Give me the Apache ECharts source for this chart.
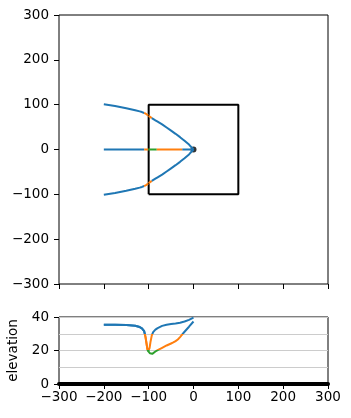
<!DOCTYPE html>
<html>
<head>
<meta charset="utf-8">
<script src="https://cdn.jsdelivr.net/npm/echarts@6/dist/echarts.min.js"></script>
<style>
  html, body { margin: 0; padding: 0; background: #fff; }
  #chart { width: 351px; height: 418px; }
</style>
</head>
<body>
<div id="chart"></div>
<script>
// straight middle path along y = 0, with its elevation
const midX = [-200, -175, -150, -130, -120, -115, -110, -107, -105, -103, -101, -100, -97, -95, -92, -88, -85, -82, -80, -70, -60, -50, -45, -40, -35, -30, -25, -20, -10, 0];
const midY = [0, 0, 0, 0, 0, 0, 0, 0, 0, 0, 0, 0, 0, 0, 0, 0, 0, 0, 0, 0, 0, 0, 0, 0, 0, 0, 0, 0, 0, 0];
const midElev = [35.3, 35.3, 35.2, 34.8, 34, 33.2, 31.5, 28, 24.5, 21, 19.6, 19.2, 18.3, 17.8, 18, 18.8, 19.4, 19.8, 20.2, 21.6, 23, 24.2, 24.8, 25.6, 26.6, 28, 29.6, 31.2, 34.2, 37.3];

// upper curved path (the lower one is the same path mirrored)
const curveX = [-200, -175, -150, -130, -120, -115, -110, -107, -105, -103, -101, -100, -98, -96, -93, -90, -85, -80, -70, -60, -50, -40, -30, -20, -10, 0];
const curveY = [101, 97, 92, 87.5, 85, 83.5, 81.5, 80, 79, 77.5, 76, 75, 73.5, 72, 70, 68, 65, 62, 56, 49, 42, 35, 27.5, 19.5, 11, 0];
const curveElev = [35.3, 35.3, 35.2, 34.8, 34, 33.2, 31.5, 28, 24.5, 21, 19.6, 19.5, 21.5, 25, 29, 31, 32.5, 33.4, 34.7, 35.4, 35.8, 36.1, 36.6, 37.3, 38.3, 39.6];

const boxX = [-100, 100, 100, -100, -100];
const boxY = [-100, -100, 100, 100, -100];

const endPoint = [[0, 0]];

const BLUE = '#1f77b4', ORANGE = '#ff7f0e', GREEN = '#2ca02c';
const FONT = 'DejaVu Sans';

function bandColor(e) {
  if (e < 20) return GREEN;
  if (e < 30) return ORANGE;
  return BLUE;
}

// cut a path into runs of the same colour
function pieces(xs, ys, es) {
  const out = [];
  let cur = null;
  for (let i = 0; i < xs.length - 1; i++) {
    const c = bandColor((es[i] + es[i + 1]) / 2);
    if (!cur || cur.color !== c) {
      cur = {color: c, data: [[xs[i], ys[i]]]};
      out.push(cur);
    }
    cur.data.push([xs[i + 1], ys[i + 1]]);
  }
  return out;
}

const fmt = v => v < 0 ? '\u2212' + Math.abs(v) : String(v);
const zip = (a, b) => a.map((v, i) => [v, b[i]]);

const chart = echarts.init(document.getElementById('chart'));

const series = [];
// elevation profiles (bottom)
series.push({type: 'line', xAxisIndex: 1, yAxisIndex: 1, data: zip(curveX, curveElev),
  showSymbol: false, silent: true, lineStyle: {width: 2}});
series.push({type: 'line', xAxisIndex: 1, yAxisIndex: 1, data: zip(midX, midElev),
  showSymbol: false, silent: true, lineStyle: {width: 2}});

// square
series.push({type: 'line', xAxisIndex: 0, yAxisIndex: 0, data: zip(boxX, boxY),
  showSymbol: false, silent: true, lineStyle: {color: '#000', width: 2}});

const lowerY = curveY.map(v => -v);
[pieces(curveX, curveY, curveElev), pieces(curveX, lowerY, curveElev), pieces(midX, midY, midElev)]
  .forEach(list => list.forEach(p => {
    series.push({type: 'line', xAxisIndex: 0, yAxisIndex: 0, data: p.data,
      showSymbol: false, silent: true, lineStyle: {color: p.color, width: 2}});
  }));

series.push({type: 'scatter', xAxisIndex: 0, yAxisIndex: 0, data: endPoint,
  symbolSize: 6, itemStyle: {color: '#000'}, silent: true});

const tick = {show: true, inside: false, length: 5, lineStyle: {color: '#000', width: 1}};
const label = {fontFamily: FONT, fontSize: 13.5, color: '#000', formatter: fmt};
const noLine = {show: false, onZero: false};

chart.setOption({
  animation: false,
  grid: [
    {left: 59, top: 15, width: 269, height: 269, show: true, borderColor: '#000', borderWidth: 1,
      outerBoundsMode: 'none'},
    {left: 59, top: 317, width: 269, height: 67, show: true, borderColor: '#000', borderWidth: 1,
      outerBoundsMode: 'none'}
  ],
  xAxis: [
    {gridIndex: 0, type: 'value', min: -300, max: 300, interval: 100, position: 'bottom',
      axisLine: noLine, axisTick: tick, axisLabel: {show: false}, splitLine: {show: false}},
    {gridIndex: 1, type: 'value', min: -300, max: 300, interval: 100, position: 'bottom',
      axisLine: {show: true, onZero: false, lineStyle: {color: '#000', width: 4}},
      axisTick: tick, axisLabel: Object.assign({margin: 6}, label), splitLine: {show: false}}
  ],
  yAxis: [
    {gridIndex: 0, type: 'value', min: -300, max: 300, interval: 100, position: 'left',
      axisLine: noLine, axisTick: tick, axisLabel: Object.assign({margin: 10}, label),
      splitLine: {show: false}},
    {gridIndex: 1, type: 'value', min: 0, max: 40, interval: 20, position: 'left',
      name: 'elevation', nameLocation: 'middle', nameGap: 32,
      nameTextStyle: {fontFamily: FONT, fontSize: 13.5, color: '#000'},
      axisLine: noLine, axisTick: tick, axisLabel: Object.assign({margin: 10}, label),
      splitLine: {show: false}},
    {gridIndex: 1, type: 'value', min: 0, max: 40, interval: 10, position: 'left',
      axisLine: noLine, axisTick: {show: false}, axisLabel: {show: false},
      splitLine: {show: true, lineStyle: {color: '#cccccc', width: 1}}}
  ],
  visualMap: {
    show: false, type: 'piecewise', dimension: 1, seriesIndex: [0, 1],
    pieces: [
      {lt: 20, color: GREEN},
      {gte: 20, lt: 30, color: ORANGE},
      {gte: 30, color: BLUE}
    ]
  },
  series: series
});
</script>
</body>
</html>
